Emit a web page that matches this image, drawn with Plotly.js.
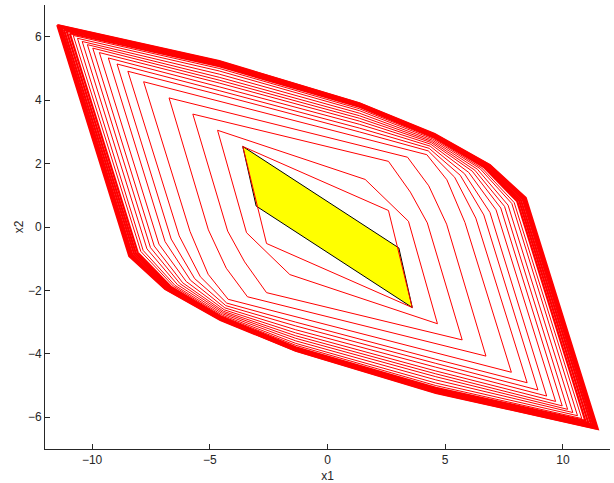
<!DOCTYPE html>
<html>
<head>
<meta charset="utf-8">
<script src="https://cdn.plot.ly/plotly-3.0.1.min.js"></script>
<style>html,body{margin:0;padding:0;background:#fff;}#chart{width:614px;height:483px;}</style>
</head>
<body>
<div id="chart"></div>
<script>
// Tick values
const xTicks = [-10, -5, 0, 5, 10];
const yTicks = [-6, -4, -2, 0, 2, 4, 6];

// Target set (yellow parallelogram), vertices clockwise
const targetX = [-3.60, 3.03, 3.60, -3.03];
const targetY = [2.54, -0.66, -2.54, 0.66];

// Nested red sets, vertices clockwise
const K1x = [-3.60, 2.59, 3.60, -2.59];
const K1y = [2.54, 0.52, -2.54, -0.52];
const K2x = [-4.67, 1.60, 3.44, 4.67, -1.60, -3.44];
const K2y = [3.05, 1.50, 0.18, -3.05, -1.50, -0.18];
const K3x = [-5.72, 2.59, 3.52, 4.24, 5.72, -2.59, -3.52, -4.24];
const K3y = [3.56, 2.07, 1.10, 0.13, -3.56, -2.07, -1.10, -0.13];
const K4x = [-6.73, 3.40, 4.30, 5.06, 6.73, -3.40, -4.30, -5.06];
const K4y = [4.07, 2.20, 1.30, 0.09, -4.07, -2.20, -1.30, -0.09];
const K5x = [-7.81, 4.22, 5.07, 5.84, 7.81, -4.22, -5.07, -5.84];
const K5y = [4.58, 2.28, 1.49, 0.14, -4.58, -2.28, -1.49, -0.14];
const K6x = [-8.48, -4.60, 1.35, 4.28, 5.40, 6.30, 8.48, 4.60, -1.35, -4.28, -5.40, -6.30];
const K6y = [4.91, 4.17, 3.00, 2.40, 1.57, 0.28, -4.91, -4.17, -3.00, -2.40, -1.57, -0.28];
const K7x = [-8.94, -4.60, 1.35, 4.32, 5.64, 6.64, 8.94, 4.60, -1.35, -4.32, -5.64, -6.64];
const K7y = [5.14, 4.30, 3.12, 2.48, 1.63, 0.38, -5.14, -4.30, -3.12, -2.48, -1.63, -0.38];
const K8x = [-9.31, -4.60, 1.35, 4.36, 5.82, 6.90, 9.31, 4.60, -1.35, -4.36, -5.82, -6.90];
const K8y = [5.33, 4.42, 3.24, 2.55, 1.68, 0.46, -5.33, -4.42, -3.24, -2.55, -1.68, -0.46];
const K9x = [-9.69, -4.60, 1.35, 4.39, 6.00, 7.16, 9.69, 4.60, -1.35, -4.39, -6.00, -7.16];
const K9y = [5.50, 4.54, 3.34, 2.61, 1.72, 0.54, -5.50, -4.54, -3.34, -2.61, -1.72, -0.54];
const K10x = [-9.97, -4.60, 1.35, 4.41, 6.15, 7.36, 9.97, 4.60, -1.35, -4.41, -6.15, -7.36];
const K10y = [5.64, 4.63, 3.43, 2.66, 1.76, 0.60, -5.64, -4.63, -3.43, -2.66, -1.76, -0.60];
const K11x = [-10.20, -4.60, 1.35, 4.43, 6.26, 7.52, 10.20, 4.60, -1.35, -4.43, -6.26, -7.52];
const K11y = [5.75, 4.72, 3.51, 2.70, 1.79, 0.65, -5.75, -4.72, -3.51, -2.70, -1.79, -0.65];
const K12x = [-10.42, -4.60, 1.35, 4.45, 6.37, 7.67, 10.42, 4.60, -1.35, -4.45, -6.37, -7.67];
const K12y = [5.85, 4.82, 3.59, 2.74, 1.82, 0.69, -5.85, -4.82, -3.59, -2.74, -1.82, -0.69];
const K13x = [-10.62, -4.60, 1.35, 4.47, 6.48, 7.83, 10.62, 4.60, -1.35, -4.47, -6.48, -7.83];
const K13y = [5.95, 4.92, 3.67, 2.78, 1.84, 0.74, -5.95, -4.92, -3.67, -2.78, -1.84, -0.74];
const K14x = [-10.80, -4.60, 1.35, 4.49, 6.55, 7.93, 10.80, 4.60, -1.35, -4.49, -6.55, -7.93];
const K14y = [6.04, 5.00, 3.73, 2.81, 1.86, 0.77, -6.04, -5.00, -3.73, -2.81, -1.86, -0.77];
// dense outer band
const B1x = [-10.95, -4.60, 1.35, 4.50, 6.64, 8.06, 10.95, 4.60, -1.35, -4.50, -6.64, -8.06];
const B1y = [6.11, 5.07, 3.79, 2.84, 1.89, 0.81, -6.11, -5.07, -3.79, -2.84, -1.89, -0.81];
const B2x = [-11.08, -4.60, 1.35, 4.51, 6.70, 8.14, 11.08, 4.60, -1.35, -4.51, -6.70, -8.14];
const B2y = [6.18, 5.11, 3.82, 2.86, 1.90, 0.83, -6.18, -5.11, -3.82, -2.86, -1.90, -0.83];
const B3x = [-11.20, -4.60, 1.35, 4.52, 6.75, 8.21, 11.20, 4.60, -1.35, -4.52, -6.75, -8.21];
const B3y = [6.23, 5.15, 3.85, 2.88, 1.91, 0.86, -6.23, -5.15, -3.85, -2.88, -1.91, -0.86];
const B4x = [-11.30, -4.60, 1.35, 4.53, 6.81, 8.29, 11.30, 4.60, -1.35, -4.53, -6.81, -8.29];
const B4y = [6.28, 5.18, 3.87, 2.90, 1.93, 0.88, -6.28, -5.18, -3.87, -2.90, -1.93, -0.88];
const B5x = [-11.38, -4.60, 1.35, 4.54, 6.85, 8.34, 11.38, 4.60, -1.35, -4.54, -6.85, -8.34];
const B5y = [6.32, 5.20, 3.88, 2.91, 1.94, 0.90, -6.32, -5.20, -3.88, -2.91, -1.94, -0.90];
const B6x = [-11.44, -4.60, 1.35, 4.55, 6.88, 8.39, 11.44, 4.60, -1.35, -4.55, -6.88, -8.39];
const B6y = [6.35, 5.22, 3.89, 2.92, 1.95, 0.91, -6.35, -5.22, -3.89, -2.92, -1.95, -0.91];
const B7x = [-11.48, -4.60, 1.35, 4.55, 6.90, 8.42, 11.48, 4.60, -1.35, -4.55, -6.90, -8.42];
const B7y = [6.37, 5.23, 3.90, 2.93, 1.95, 0.92, -6.37, -5.23, -3.90, -2.93, -1.95, -0.92];

const innerSets = [
  [K1x, K1y], [K2x, K2y], [K3x, K3y], [K4x, K4y], [K5x, K5y],
  [K6x, K6y], [K7x, K7y], [K8x, K8y], [K9x, K9y], [K10x, K10y],
  [K11x, K11y], [K12x, K12y], [K13x, K13y], [K14x, K14y]
];
const bandSets = [
  [B1x, B1y], [B2x, B2y], [B3x, B3y], [B4x, B4y], [B5x, B5y], [B6x, B6y], [B7x, B7y]
];

function closed(a) { return a.concat([a[0]]); }

const traces = [];
traces.push({
  x: closed(targetX), y: closed(targetY), type: 'scatter', mode: 'lines',
  fill: 'toself', fillcolor: '#ffff00',
  line: {color: '#000000', width: 1}, hoverinfo: 'skip'
});
innerSets.forEach(function (s) {
  traces.push({
    x: closed(s[0]), y: closed(s[1]), type: 'scatter', mode: 'lines',
    line: {color: '#ff0000', width: 1}, hoverinfo: 'skip'
  });
});
bandSets.forEach(function (s) {
  traces.push({
    x: closed(s[0]), y: closed(s[1]), type: 'scatter', mode: 'lines',
    line: {color: '#ff0000', width: 2.2}, hoverinfo: 'skip'
  });
});

const fontFam = 'Liberation Sans, Arial, Helvetica, sans-serif';
const axisCommon = {
  showgrid: false, zeroline: false, showline: true, linecolor: '#262626', linewidth: 1,
  ticks: 'inside', ticklen: 5, tickcolor: '#262626', tickwidth: 1, mirror: false,
  tickfont: {family: fontFam, size: 12, color: '#262626'}
};

const layout = {
  width: 614, height: 483,
  margin: {l: 45, r: 4, t: 5, b: 34},
  paper_bgcolor: '#ffffff', plot_bgcolor: '#ffffff',
  showlegend: false,
  xaxis: Object.assign({}, axisCommon, {
    range: [-12, 12], tickmode: 'array', tickvals: xTicks,
    title: {text: 'x1', font: {family: fontFam, size: 12, color: '#262626'}, standoff: 5}
  }),
  yaxis: Object.assign({}, axisCommon, {
    range: [-7, 7], tickmode: 'array', tickvals: yTicks,
    title: {text: 'x2', font: {family: fontFam, size: 12, color: '#262626'}, standoff: 1}
  })
};

Plotly.newPlot('chart', traces, layout, {displayModeBar: false, staticPlot: true});
</script>
</body>
</html>
